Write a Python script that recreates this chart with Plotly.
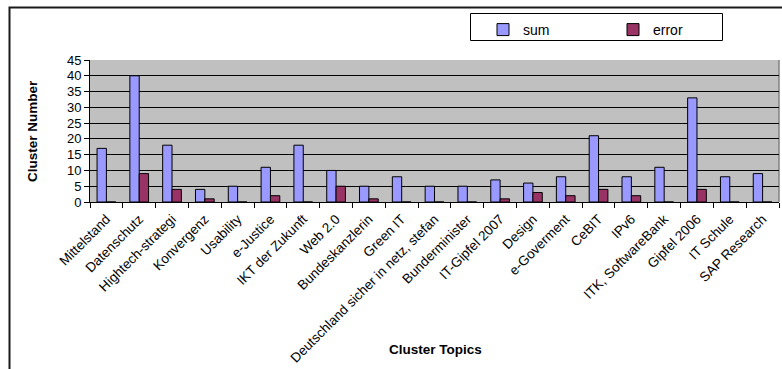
import plotly.graph_objects as go

# Cluster topics and their counts
topics = [
    "Mittelstand", "Datenschutz", "Hightech-strategi", "Konvergenz", "Usability",
    "e-Justice", "IKT der Zukunft", "Web 2.0", "Bundeskanzlerin", "Green IT",
    "Deutschland sicher in netz, stefan", "Bunderminister", "IT-Gipfel 2007",
    "Design", "e-Goverment", "CeBIT", "IPv6", "ITK, SoftwareBank",
    "Gipfel 2006", "IT Schule", "SAP Research",
]
sum_values = [17, 40, 18, 4, 5, 11, 18, 10, 5, 8, 5, 5, 7, 6, 8, 21, 8, 11, 33, 8, 9]
error_values = [0, 9, 4, 1, 0, 2, 0, 5, 1, 0, 0, 0, 1, 3, 2, 4, 2, 0, 4, 0, 0]

y_ticks = [0, 5, 10, 15, 20, 25, 30, 35, 40, 45]

W, H = 782, 369
ML, MR, MT, MB = 90, 3, 60, 167
PW, PH = W - ML - MR, H - MT - MB


def px_x(x):
    return (x - ML) / PW


def px_y(y):
    return (H - MB - y) / PH


FONT = "Arial, Liberation Sans, sans-serif"

fig = go.Figure()
fig.add_trace(go.Bar(
    x=topics, y=sum_values, name="sum",
    marker=dict(color="#9999FF", line=dict(color="#000000", width=1)),
))
fig.add_trace(go.Bar(
    x=topics, y=error_values, name="error",
    marker=dict(color="#993366", line=dict(color="#000000", width=1)),
))

fig.update_layout(
    width=W, height=H,
    margin=dict(l=ML, r=MR, t=MT, b=MB, pad=0, autoexpand=False),
    paper_bgcolor="white",
    plot_bgcolor="#C0C0C0",
    barmode="group",
    bargap=0.43,
    bargroupgap=0,
    font=dict(family=FONT, size=13, color="black"),
    showlegend=True,
    legend=dict(
        orientation="h",
        x=px_x(483), xanchor="left",
        y=px_y(14), yanchor="top",
        bgcolor="rgba(0,0,0,0)",
        borderwidth=0,
        entrywidth=85,
        entrywidthmode="pixels",
        font=dict(family=FONT, size=14, color="black"),
    ),
    xaxis=dict(
        type="category",
        tickangle=-45,
        tickson="boundaries",
        ticks="outside",
        ticklen=5,
        tickcolor="black",
        ticklabelstandoff=3,
        showline=True,
        linecolor="black",
        linewidth=1,
        showgrid=False,
        tickfont=dict(family=FONT, size=13.5, color="black"),
        automargin=False,
    ),
    yaxis=dict(
        range=[0, 45],
        tickvals=y_ticks,
        ticks="outside",
        ticklen=5,
        tickcolor="black",
        showline=True,
        linecolor="black",
        linewidth=1,
        showgrid=True,
        gridcolor="black",
        gridwidth=1,
        zeroline=False,
        tickfont=dict(family=FONT, size=13, color="black"),
        automargin=False,
    ),
    annotations=[
        dict(text="<b>Cluster Number</b>", xref="paper", yref="paper",
             x=px_x(32), y=0.5, textangle=-90, showarrow=False,
             xanchor="center", yanchor="middle",
             font=dict(family=FONT, size=13.5, color="black")),
        dict(text="<b>Cluster Topics</b>", xref="paper", yref="paper",
             x=px_x(436), y=px_y(349), showarrow=False,
             xanchor="center", yanchor="middle",
             font=dict(family=FONT, size=13.5, color="black")),
    ],
    shapes=[
        # outer chart frame
        dict(type="rect", xref="paper", yref="paper", layer="above",
             x0=px_x(9.5), x1=px_x(800), y0=px_y(400), y1=px_y(7.5),
             line=dict(color="#1a1a1a", width=2), fillcolor="rgba(0,0,0,0)"),
        # legend box
        dict(type="rect", xref="paper", yref="paper", layer="above",
             x0=px_x(470.5), x1=px_x(722.5), y0=px_y(40.5), y1=px_y(13.5),
             line=dict(color="#000000", width=1), fillcolor="rgba(0,0,0,0)"),
        # plot-area border on the right
        dict(type="line", xref="paper", yref="paper", layer="below",
             x0=1, x1=1, y0=0, y1=1, line=dict(color="#808080", width=1.5)),
    ],
)

fig.write_html("out.html")
